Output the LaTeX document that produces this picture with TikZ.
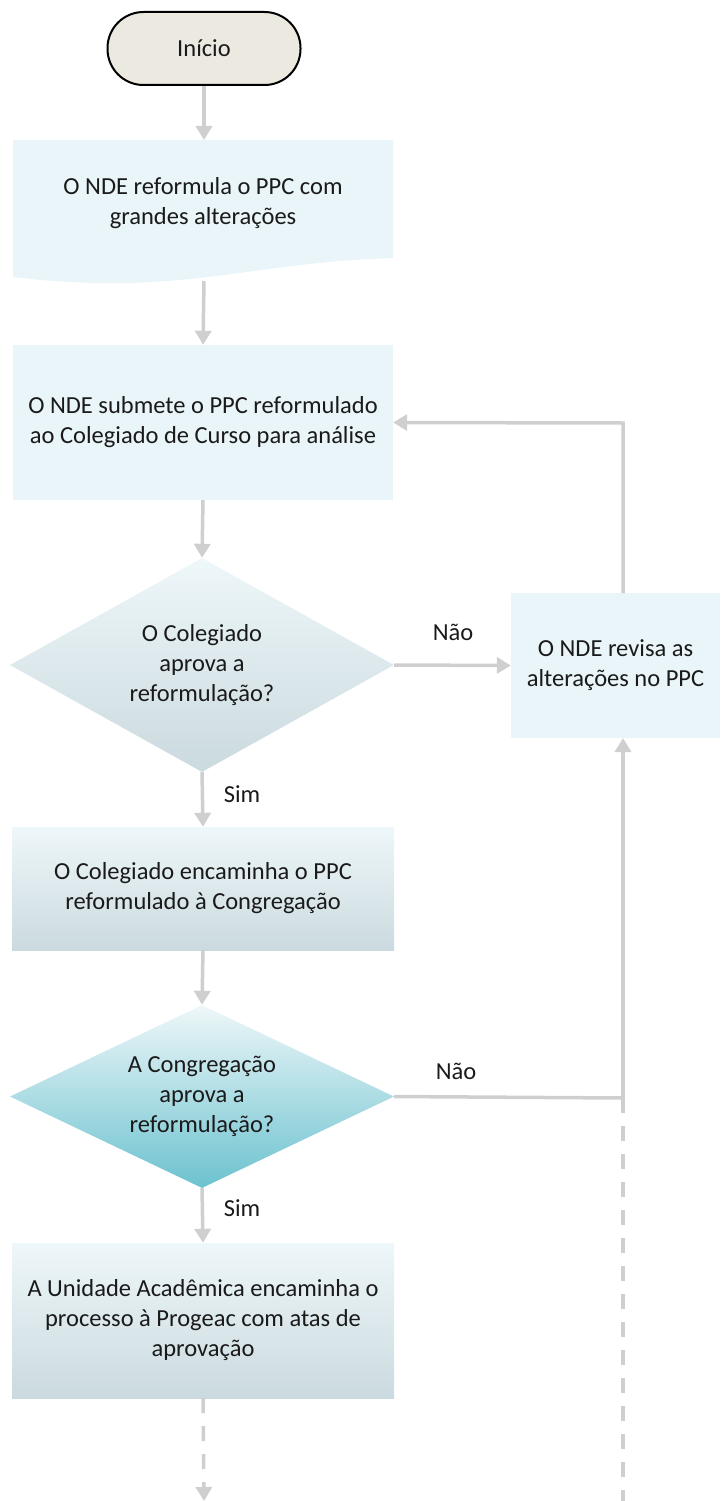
\documentclass[tikz,border=0pt]{standalone}
\usepackage{fontspec}
\setmainfont{Carlito}
\usetikzlibrary{shapes.geometric,arrows.meta}
\definecolor{boxfill}{HTML}{E9F5F8}
\definecolor{gradtop}{HTML}{EEF7F9}
\definecolor{gradbot}{HTML}{CBDADF}
\definecolor{tealbot}{HTML}{6CC2CF}
\definecolor{startfill}{HTML}{ECEAE0}
\definecolor{linegray}{HTML}{CFCFCF}
\definecolor{txt}{HTML}{1A1A1A}
\begin{document}
\begin{tikzpicture}[x=1pt,y=-1pt,
  font=\fontsize{24.5}{30}\selectfont,
  every node/.style={text=txt},
  startbox/.style={rectangle, rounded corners=36pt, draw=black, line width=2pt, fill=startfill, minimum width=193pt, minimum height=73pt, inner sep=0pt},
  flatbox/.style={rectangle, fill=boxfill, inner sep=0pt, align=center},
  gradbox/.style={rectangle, top color=gradtop, bottom color=gradbot, inner sep=0pt, align=center},
  decide/.style={diamond, inner sep=0pt, align=center, minimum width=384pt},
  conn/.style={draw=linegray, line width=3.5pt, -{Triangle[width=16pt,length=14pt]}},
  plainconn/.style={draw=linegray, line width=3.5pt},
  dashconn/.style={draw=linegray, line width=3.5pt, dash pattern=on 15pt off 13pt},
  lbl/.style={inner sep=0pt}
]
\useasboundingbox (0,0) rectangle (722,1501);

% Start
\node[startbox] (start) at (204,48.5) {Início};

% Document shape box 1
\fill[boxfill] (13,140) -- (393,140) -- (393,258)
  .. controls (250,262) and (180,297) .. (13,277) -- cycle;
\node[lbl, align=center] (b1) at (203,203) {O NDE reformula o PPC com\\grandes alterações};
\coordinate (b1top) at (204,140);
\coordinate (b1bot) at (204,281);

% Box 2
\node[flatbox, minimum width=380pt, minimum height=155pt] (b2) at (203,422.5)
  {O NDE submete o PPC reformulado\\ao Colegiado de Curso para análise};

% Decision 1
\node[decide, aspect=1.8, minimum height=214pt, top color=gradtop, bottom color=gradbot] (d1) at (202,665)
  {O Colegiado\\aprova a\\reformulação?};

% Review box
\node[flatbox, minimum width=209pt, minimum height=145pt] (rev) at (615.5,665.5)
  {O NDE revisa as\\alterações no PPC};

% Box 3
\node[gradbox, minimum width=382pt, minimum height=123pt] (b3) at (203,888.5)
  {O Colegiado encaminha o PPC\\reformulado à Congregação};

% Decision 2
\node[decide, aspect=2.1, minimum height=183pt, top color=gradtop, bottom color=tealbot] (d2) at (202,1096.5)
  {A Congregação\\aprova a\\reformulação?};

% Box 4
\node[gradbox, minimum width=382pt, minimum height=155pt] (b4) at (203,1320.5)
  {A Unidade Acadêmica encaminha o\\processo à Progeac com atas de\\aprovação};

% Coordinates
\coordinate (revtop) at (623,593);
\coordinate (loopcorner) at (623,423);
\coordinate (revbot) at (623,738);
\coordinate (joint) at (623,1098);
\coordinate (rightend) at (623,1501);
\coordinate (leftend) at (204,1501);

% Connectors
\draw[conn] (start.south) -- (b1top);
\draw[conn] (b1bot) -- (b2.north);
\draw[conn] (b2.south) -- (d1.north);
\draw[conn] (d1.south) -- (b3.north);
\draw[conn] (d1.east) -- (rev.west);
\draw[conn] (revtop) -- (loopcorner) -- (b2.east);
\draw[conn] (b3.south) -- (d2.north);
\draw[conn] (d2.south) -- (b4.north);
\draw[plainconn] (d2.east) -- (joint);
\draw[conn] (joint) -- (revbot);
\draw[dashconn] (joint) -- (rightend);
\draw[dashconn, -{Triangle[width=16pt,length=14pt]}] (b4.south) -- (leftend);

% Labels
\node[lbl] (nao1) at (453,632) {Não};
\node[lbl] (sim1) at (242,794) {Sim};
\node[lbl] (nao2) at (456,1071) {Não};
\node[lbl] (sim2) at (242,1208) {Sim};
\end{tikzpicture}
\end{document}
